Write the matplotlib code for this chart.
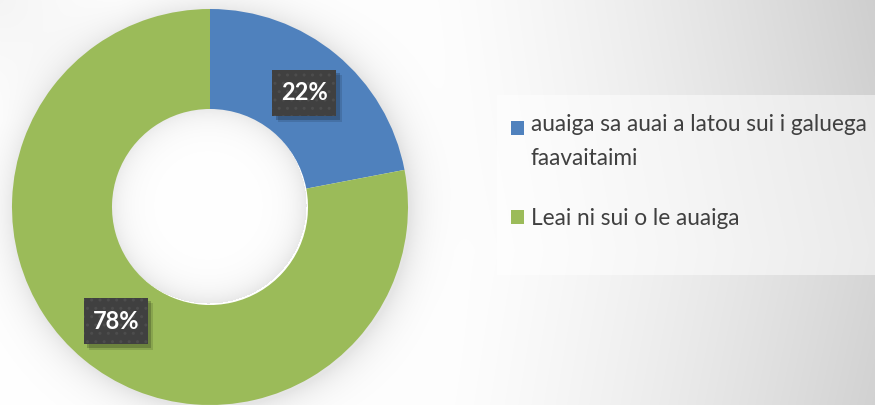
import numpy as np
import matplotlib
matplotlib.use('Agg')
import matplotlib.pyplot as plt
from matplotlib import patheffects as pe
from matplotlib.patches import Rectangle, Patch
from matplotlib.path import Path
from matplotlib.legend_handler import HandlerPatch

# chart data
labels = ['auaiga sa auai a latou sui i galuega\nfaavaitaimi', 'Leai ni sui o le auaiga']
shares = [22, 78]
colors = ['#4f81bd', '#9bbb59']

W, H = 875, 405
fig = plt.figure(figsize=(W / 100, H / 100), dpi=100)
fam = ['Lato', 'DejaVu Sans']

# pie axes placement (pixels)
cx, cy, R = 210, 207, 198
hole = 0.495

# background: soft gradient, darker to the right, plus blurred shadows
yy, xx = np.mgrid[0:H, 0:W]
bg = 1 - 0.16 * np.clip((xx - 430) / 445, 0, 1) ** 1.4 - 0.03 * np.clip((xx - 300) / 575, 0, 1) * np.abs(yy - 250) / 250
bg -= 0.04 * np.clip(1 - np.hypot(xx, yy) / 120, 0, 1)
d = np.hypot(xx - cx - 2, yy - cy - 2)
outside = np.clip(d - R, 0, None)
bg -= 0.10 * np.exp(-outside / 16) * (d > R - 4)
inside = np.clip(R * hole - np.hypot(xx - cx + 2, yy - cy + 2), 0, None)
bg -= 0.09 * np.exp(-inside / 14) * (inside > 0)
ax_bg = fig.add_axes([0, 0, 1, 1], zorder=0)
ax_bg.imshow(np.dstack([bg] * 3), extent=[0, W, H, 0], aspect='auto', vmin=0, vmax=1)
ax_bg.axis('off')

# legend panel
fig.patches.append(Rectangle((497 / W, 1 - 275 / H), (W - 497) / W, 180 / H,
                             transform=fig.transFigure, fc='white', ec='none',
                             alpha=0.5, zorder=1))

ax = fig.add_axes([(cx - R) / W, (H - cy - R) / H, 2 * R / W, 2 * R / H], zorder=2)
ax.patch.set_alpha(0)
wedges, texts, autotexts = ax.pie(
    shares, colors=colors, startangle=90, counterclock=False, radius=1,
    wedgeprops=dict(width=1 - hole, linewidth=0),
    autopct='%1.0f%%', pctdistance=(1 + hole) / 2)
ax.set_xlim(-1, 1)
ax.set_ylim(-1, 1)
ax.set_aspect('auto')


def label_box(x0, y0, width, height, mutation_size):
    px, py = 0.37 * mutation_size, 0.5 * mutation_size
    x0, y0 = x0 - px, y0 - py
    x1, y1 = x0 + width + 2 * px, y0 + height + 2 * py
    return Path([(x0, y0), (x1, y0), (x1, y1), (x0, y1), (x0, y0)], closed=True)


class PlainShadow(pe.SimplePatchShadow):
    # shadow without the box's dot pattern
    def draw_path(self, renderer, gc, tpath, affine, rgbFace):
        h = gc.get_hatch()
        gc.set_hatch(None)
        super().draw_path(renderer, gc, tpath, affine, rgbFace)
        gc.set_hatch(h)


for t in autotexts:
    t.set_color('white')
    t.set_fontweight('bold')
    t.set_fontsize(17)
    t.set_family(fam)
    t.set_bbox(dict(boxstyle=label_box, fc='#404040', ec='#4d4d4d',
                    lw=0, hatch='..'))
    t.get_bbox_patch().set_path_effects([
        PlainShadow(offset=(4, -4), shadow_rgbFace='black', alpha=0.12),
        PlainShadow(offset=(2.5, -2.5), shadow_rgbFace='black', alpha=0.2),
        pe.Normal()])


def raised_square(legend, orig_handle, xdescent, ydescent, width, height, fontsize):
    return Rectangle((-xdescent, -ydescent + 10), width, height)


handles = [Patch(fc=c, ec='none') for c in colors]
leg = fig.legend(handles, labels, loc='upper left',
                 bbox_to_anchor=(500 / W, 1 - 103 / H), frameon=False,
                 prop=dict(family=fam, size=16.3), labelcolor='#404040',
                 handlelength=0.55, handleheight=0.55, handletextpad=0.3,
                 labelspacing=1.75, borderpad=0,
                 handler_map={handles[0]: HandlerPatch(patch_func=raised_square)})
leg.set_zorder(3)
for t in leg.get_texts():
    t.set_linespacing(1.72)

fig.savefig('out.png', dpi=100)
